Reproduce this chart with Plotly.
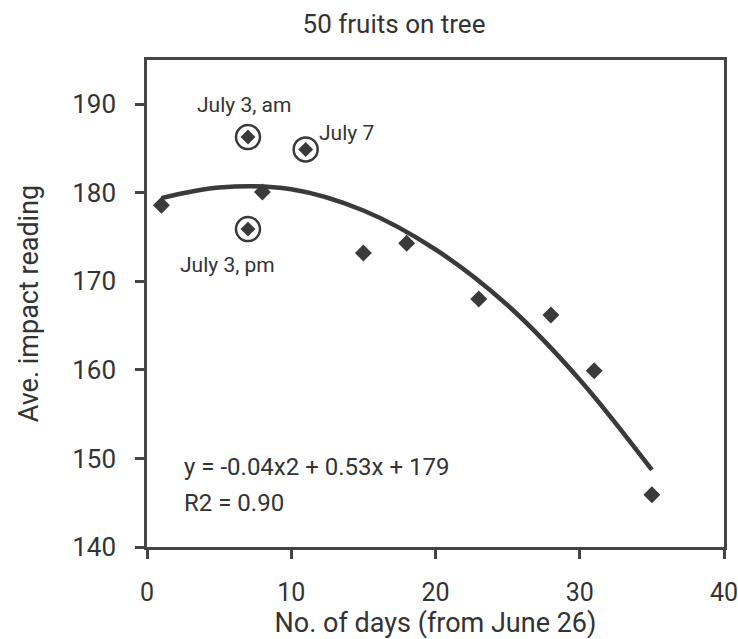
import plotly.graph_objects as go

# ---- data ----
days = [1, 8, 15, 18, 23, 28, 31, 35]
impact = [178.6, 180.1, 173.2, 174.3, 168.0, 166.2, 159.9, 145.9]

hl_days = [7, 11, 7]
hl_impact = [186.3, 184.9, 175.9]
hl_labels = ["July 3, am", "July 7", "July 3, pm"]

trend_days = [1, 5, 10, 15, 20, 25, 30, 35]
trend_impact = [179.4, 180.6, 180.4, 178.0, 173.6, 167.3, 158.9, 148.7]

x_ticks = [0, 10, 20, 30, 40]
y_ticks = [140, 150, 160, 170, 180, 190]

eq_text = "y = -0.04x2 + 0.53x + 179"
r2_text = "R2 = 0.90"

DARK = "#3a3a3a"
TXT = "#333333"
FONT = "Roboto"

fig = go.Figure()

fig.add_trace(go.Scatter(
    x=trend_days, y=trend_impact, mode="lines",
    line=dict(color=DARK, width=4.5, shape="spline", smoothing=1.0),
    showlegend=False, hoverinfo="skip"))

fig.add_trace(go.Scatter(
    x=days, y=impact, mode="markers",
    marker=dict(symbol="diamond", size=13, color=DARK, line=dict(width=0)),
    showlegend=False))

fig.add_trace(go.Scatter(
    x=hl_days, y=hl_impact, mode="markers",
    marker=dict(symbol="circle", size=24, color="white",
                line=dict(color=DARK, width=2.5)),
    showlegend=False, hoverinfo="skip"))

fig.add_trace(go.Scatter(
    x=hl_days, y=hl_impact, mode="markers",
    marker=dict(symbol="diamond", size=11.5, color=DARK, line=dict(width=0)),
    showlegend=False))

# point labels
label_pos = [(6.72, 189.9), (13.8, 186.7), (5.55, 171.8)]
for txt, (lx, ly) in zip(hl_labels, label_pos):
    fig.add_annotation(x=lx, y=ly, text=txt, showarrow=False,
                       xanchor="center", yanchor="middle",
                       font=dict(family=FONT, size=21, color=TXT))

fig.add_annotation(x=2.43, y=149.0, text=eq_text, showarrow=False,
                   xanchor="left", yanchor="middle",
                   font=dict(family=FONT, size=24, color=TXT))
fig.add_annotation(x=2.43, y=145.0, text=r2_text, showarrow=False,
                   xanchor="left", yanchor="middle",
                   font=dict(family=FONT, size=24, color=TXT))

fig.update_layout(
    width=738, height=639,
    margin=dict(l=147, r=14, t=60, b=92, autoexpand=False),
    paper_bgcolor="white", plot_bgcolor="white",
    font=dict(family=FONT, color=TXT),
    title=dict(text="50 fruits on tree", x=394 / 738, xref="container",
               xanchor="center", y=1 - 24 / 639, yref="container",
               yanchor="middle", font=dict(family=FONT, size=26, color=TXT)),
    showlegend=False,
)

fig.update_xaxes(
    range=[0, 40], tickvals=x_ticks, ticktext=[str(v) for v in x_ticks],
    showgrid=False, zeroline=False, automargin=False,
    showline=True, linecolor="#444444", linewidth=2.5, mirror=True,
    ticks="outside", ticklen=9, tickwidth=2.5, tickcolor="#444444",
    ticklabelstandoff=12, ticklabeloverflow="allow",
    tickfont=dict(family=FONT, size=25, color=TXT),
    title=dict(text="No. of days (from June 26)", standoff=20,
               font=dict(family=FONT, size=27, color=TXT)),
)
fig.update_yaxes(
    range=[140, 195], tickvals=y_ticks, ticktext=[str(v) for v in y_ticks],
    showgrid=False, zeroline=False, automargin=False,
    showline=True, linecolor="#444444", linewidth=2.5, mirror=True,
    ticks="outside", ticklen=9, tickwidth=2.5, tickcolor="#444444",
    ticklabelstandoff=14, ticklabeloverflow="allow",
    tickfont=dict(family=FONT, size=26, color=TXT),
    title=dict(text="Ave. impact reading", standoff=26,
               font=dict(family=FONT, size=27, color=TXT)),
)

fig.write_html("out.html")
